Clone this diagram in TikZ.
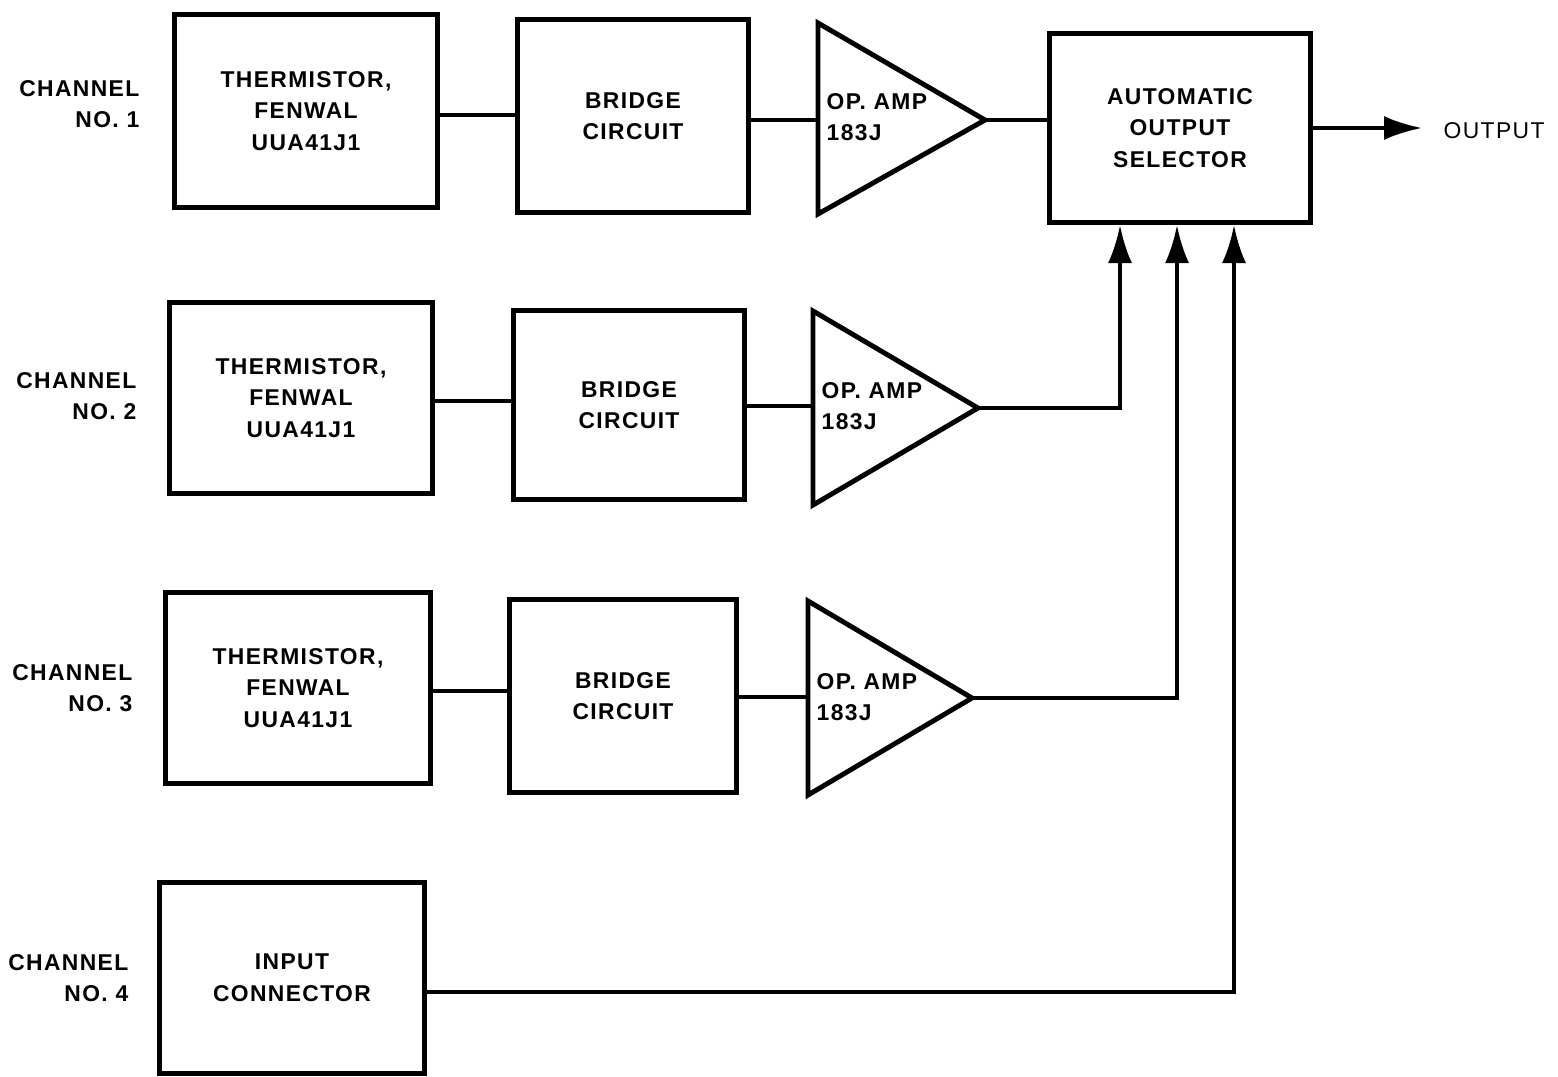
\documentclass[tikz,border=0pt]{standalone}
\usepackage{fontspec}
\setmainfont{Liberation Sans}[LetterSpace=6]
\usetikzlibrary{arrows.meta,calc}
\begin{document}
\begin{tikzpicture}[x=0.01cm,y=-0.01cm,
  txt/.style={font=\fontsize{6.5}{9}\selectfont\bfseries, align=center, inner sep=0pt},
  lbl/.style={font=\fontsize{6.5}{9}\selectfont\bfseries, align=right, inner sep=0pt, anchor=east},
  blk/.style={draw, line width=1.4pt, inner sep=0pt, align=center, font=\fontsize{6.5}{9}\selectfont\bfseries},
  amp/.style={draw, line width=1.4pt, line join=miter},
  wire/.style={line width=1.1pt},
  arr/.style={line width=1.1pt, -{Latex[length=0.38cm,width=0.24cm]}}]
\useasboundingbox (0,0) rectangle (1558,1076);

% channel labels
\node[lbl] (c1) at (140,104) {CHANNEL\\NO. 1};
\node[lbl] (c2) at (137,396) {CHANNEL\\NO. 2};
\node[lbl] (c3) at (133,688) {CHANNEL\\NO. 3};
\node[lbl] (c4) at (129,978) {CHANNEL\\NO. 4};

% thermistors / input
\node[blk, minimum width=2.62cm, minimum height=1.93cm] (t1) at (306,111) {THERMISTOR,\\FENWAL\\UUA41J1};
\node[blk, minimum width=2.63cm, minimum height=1.91cm] (t2) at (301,398) {THERMISTOR,\\FENWAL\\UUA41J1};
\node[blk, minimum width=2.64cm, minimum height=1.90cm] (t3) at (298,688) {THERMISTOR,\\FENWAL\\UUA41J1};
\node[blk, minimum width=2.65cm, minimum height=1.90cm] (inp) at (292,978) {INPUT\\CONNECTOR};

% bridges
\node[blk, minimum width=2.30cm, minimum height=1.93cm] (b1) at (633,116) {BRIDGE\\CIRCUIT};
\node[blk, minimum width=2.31cm, minimum height=1.89cm] (b2) at (629,405) {BRIDGE\\CIRCUIT};
\node[blk, minimum width=2.27cm, minimum height=1.93cm] (b3) at (623,696) {BRIDGE\\CIRCUIT};

% op amps
\draw[amp] (818,23) -- (985,120) -- (818,214) -- cycle;
\coordinate (a1in) at (818,120); \coordinate (a1out) at (985,120);
\node[txt, align=left, anchor=west] (a1) at (826,117) {OP. AMP\\183J};
\draw[amp] (813,311) -- (978,408) -- (813,505) -- cycle;
\coordinate (a2in) at (813,406); \coordinate (a2out) at (978,408);
\node[txt, align=left, anchor=west] (a2) at (821,406) {OP. AMP\\183J};
\draw[amp] (808,601) -- (972,698) -- (808,795) -- cycle;
\coordinate (a3in) at (808,697); \coordinate (a3out) at (972,698);
\node[txt, align=left, anchor=west] (a3) at (816,697) {OP. AMP\\183J};

% selector
\node[blk, minimum width=2.60cm, minimum height=1.89cm] (sel) at (1180,128) {AUTOMATIC\\OUTPUT\\SELECTOR};
\coordinate (s2) at ($(sel.south)+(-60,0)$);
\coordinate (s3) at ($(sel.south)+(-3,0)$);
\coordinate (s4) at ($(sel.south)+(54,0)$);
\coordinate (out) at (1422,128);
\node[font=\fontsize{6.5}{9}\selectfont, inner sep=0pt, anchor=west] (outl) at (1443,131) {OUTPUT};

% wires
\draw[wire] (t1.east |- 0,115) -- (b1.west |- 0,115);
\draw[wire] (t2.east |- 0,401) -- (b2.west |- 0,401);
\draw[wire] (t3.east |- 0,691) -- (b3.west |- 0,691);
\draw[wire] (b1.east |- a1in) -- (a1in);
\draw[wire] (b2.east |- a2in) -- (a2in);
\draw[wire] (b3.east |- a3in) -- (a3in);
\draw[wire] (a1out) -- (a1out -| sel.west);
\draw[arr] (sel.east |- out) -- (out);
\draw[arr] (a2out) -| (s2);
\draw[arr] (a3out) -| (s3);
\draw[arr] ([yshift=-0.14cm]inp.east) -| (s4);
\end{tikzpicture}
\end{document}
